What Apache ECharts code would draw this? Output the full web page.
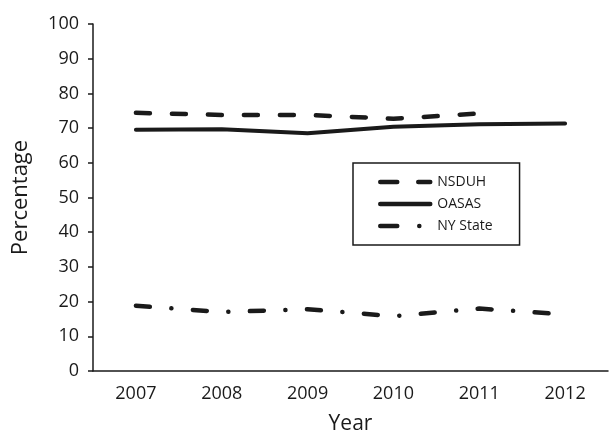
<!DOCTYPE html>
<html><head><meta charset="utf-8">
<script src="https://cdn.jsdelivr.net/npm/echarts@6/dist/echarts.min.js"></script>
<style>html,body{margin:0;padding:0;background:#fff}#c{width:611px;height:434px}</style>
</head><body><div id="c"></div>
<script>
const years = ['2007','2008','2009','2010','2011','2012'];
const nsduh = [74.4, 73.8, 73.8, 72.7, 74.2, null];
const oasas = [69.5, 69.7, 68.5, 70.4, 71.1, 71.3];
const nyState = [18.8, 17.0, 17.8, 15.8, 18.0, 16.3];
const yTicks = [0, 10, 20, 30, 40, 50, 60, 70, 80, 90, 100];

const font = 'Open Sans';
const ink = '#1a1a1a';
const chart = echarts.init(document.getElementById('c'), null, {renderer: 'canvas'});
chart.setOption({
  animation: false,
  backgroundColor: '#fff',
  grid: {left: 93, right: 3, top: 24, bottom: 63, containLabel: false, outerBoundsMode: 'none'},
  legend: {
    orient: 'vertical', left: 353, top: 163,
    padding: [12, 27, 12, 25],
    itemWidth: 50, itemHeight: 14, itemGap: 8,
    borderColor: ink, borderWidth: 1.5,
    itemStyle: {color: 'transparent', borderColor: 'transparent', borderWidth: 0},
    textStyle: {fontFamily: font, fontSize: 14, color: ink, padding: [0, 0, 0, 2]},
    data: [
      {name: 'NSDUH', lineStyle: {type: [17, 21], cap: 'round', width: 4.5}},
      {name: 'OASAS', lineStyle: {type: 'solid', cap: 'round', width: 4.5}},
      {name: 'NY State', lineStyle: {type: [17, 22, 0.1, 30], cap: 'round', width: 4.5}}
    ]
  },
  xAxis: {
    type: 'category', data: years, boundaryGap: true,
    name: 'Year', nameLocation: 'middle', nameGap: 43,
    nameTextStyle: {fontFamily: font, fontSize: 21, color: ink},
    axisLine: {lineStyle: {color: ink, width: 1.5}},
    axisTick: {alignWithLabel: false, length: 6, lineStyle: {color: ink, width: 1.5}},
    axisLabel: {fontFamily: font, fontSize: 18, color: ink, margin: 14}
  },
  yAxis: {
    type: 'value', min: yTicks[0], max: yTicks[yTicks.length - 1], interval: 10,
    name: 'Percentage', nameLocation: 'middle', nameGap: 61,
    nameTextStyle: {fontFamily: font, fontSize: 22, color: ink},
    splitLine: {show: false},
    axisLine: {show: true, lineStyle: {color: ink, width: 1.5}},
    axisTick: {show: true, length: 5, lineStyle: {color: ink, width: 1.5}},
    axisLabel: {fontFamily: font, fontSize: 18, color: ink, margin: 14}
  },
  series: [
    {name: 'NSDUH', type: 'line', data: nsduh, showSymbol: false, symbol: 'none',
     lineStyle: {color: ink, width: 4.5, type: [14, 22], cap: 'round', join: 'round'}, itemStyle: {color: ink}},
    {name: 'OASAS', type: 'line', data: oasas, showSymbol: false, symbol: 'none',
     lineStyle: {color: ink, width: 4, type: 'solid', cap: 'round', join: 'round'}, itemStyle: {color: ink}},
    {name: 'NY State', type: 'line', data: nyState, showSymbol: false, symbol: 'none',
     lineStyle: {color: ink, width: 4.5, type: [14, 21.5, 0.1, 21.5], cap: 'round', join: 'round'}, itemStyle: {color: ink}}
  ]
});
</script></body></html>
